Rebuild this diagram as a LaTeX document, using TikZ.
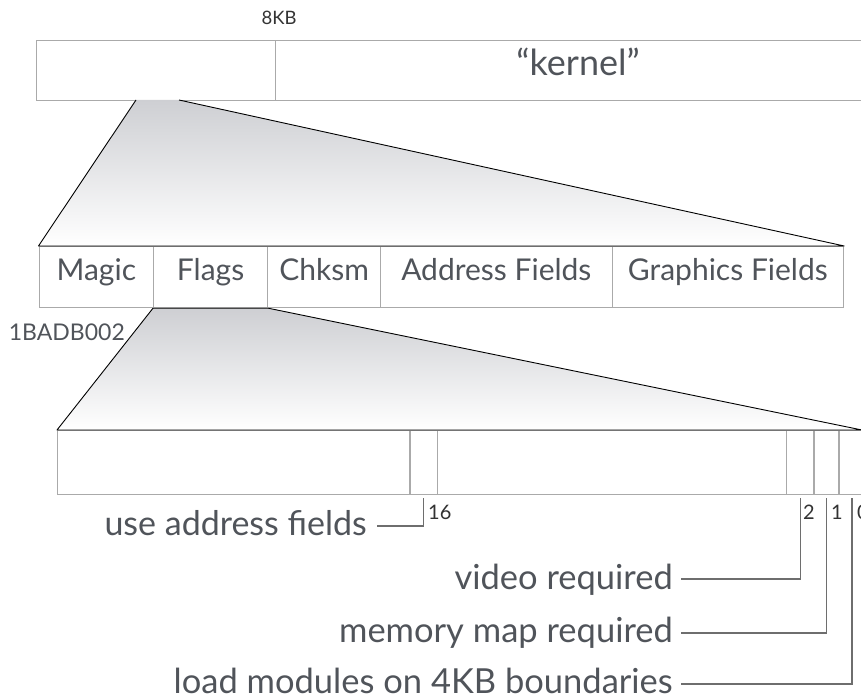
\documentclass[tikz,border=0pt]{standalone}
\usepackage{fontspec}
\setmainfont{Lato}
\usetikzlibrary{calc}
\definecolor{txt}{RGB}{80,84,90}
\definecolor{boxline}{RGB}{170,170,170}
\definecolor{leadline}{RGB}{110,110,110}
\definecolor{shadetop}{RGB}{206,207,211}
\begin{document}
\begin{tikzpicture}[x=1pt,y=-1pt,
  cell/.style={draw=boxline, line width=1.2pt, inner sep=0pt, anchor=north west,
    text=txt, font=\fontsize{30}{36}\selectfont, text height=0.75em, text depth=0.1em},
  trap/.style={draw=black, line width=0.9pt, line join=round},
  leader/.style={draw=leadline, line width=1.2pt},
  lbl/.style={font=\fontsize{34.5}{40}\selectfont, text=txt, inner sep=0pt, anchor=base east},
  bitnum/.style={font=\fontsize{20}{24}\selectfont, text=black!80, inner sep=0pt, anchor=base west},
  shadefill/.style={top color=shadetop, bottom color=white}]
\useasboundingbox (0,0) rectangle (861,700);
\clip (0,0) rectangle (861,700);

% top bar
\node[cell, minimum width=239pt, minimum height=60pt] (hdr) at (36,40) {};
\node[cell, minimum width=605pt, minimum height=60pt, font=\fontsize{36}{42}\selectfont,
  text height=0.9em, text depth=0pt] (kern) at (275,40) {“kernel”};
\node[font=\fontsize{18.5}{22}\selectfont, text=black!80, inner sep=0pt, anchor=base] (kb) at (279,25) {8KB};

% middle row
\node[cell, minimum width=114.5pt, minimum height=61pt] (magic) at (38.5,246) {Magic};
\node[cell, minimum width=114pt, minimum height=61pt] (flags) at (153,246) {Flags};
\node[cell, minimum width=113pt, minimum height=61pt] (chk) at (267,246) {Chksm};
\node[cell, minimum width=231.5pt, minimum height=61pt] (addr) at (380,246) {Address Fields};
\node[cell, minimum width=231.5pt, minimum height=61pt] (graph) at (611.5,246) {Graphics Fields};
\node[font=\fontsize{23}{27}\selectfont, text=txt, inner sep=0pt, anchor=base east] (magicval) at (125,340) {1BADB002};

% bottom row
\node[cell, minimum width=352.3pt, minimum height=64pt] (b31) at (57,430) {};
\node[cell, minimum width=27.4pt, minimum height=64pt] (b16) at (409.3,430) {};
\node[cell, minimum width=349.3pt, minimum height=64pt] (bmid) at (436.7,430) {};
\node[cell, minimum width=27.3pt, minimum height=64pt] (b2) at (786,430) {};
\node[cell, minimum width=25pt, minimum height=64pt] (b1) at (813.3,430) {};
\node[cell, minimum width=26pt, minimum height=64pt] (b0) at (838.3,430) {};

% zoom trapezoids
\coordinate (t1a) at (136,100);
\coordinate (t1b) at (179,100);
\coordinate (t2r) at (862,430);
\shade[shadefill] (t1a) -- (t1b) -- (graph.north east) -- (magic.north west) -- cycle;
\draw[trap] (t1a) -- (magic.north west) -- (graph.north east) -- (t1b);
\shade[shadefill] (flags.south west) -- (flags.south east) -- (t2r) -- (b31.north west) -- cycle;
\draw[trap] (flags.south west) -- (b31.north west) -- (t2r) -- (flags.south east) -- cycle;

% bit numbers
\node[bitnum] (n16) at (428,519) {16};
\node[bitnum] (n2) at (803,519) {2};
\node[bitnum] (n1) at (831,519) {1};
\node[bitnum] (n0) at (857,519) {0};

% labels
\node[lbl, font=\fontsize{34}{40}\selectfont] (uaf) at (367,535) {use address fields};
\node[lbl] (vid) at (673,589) {video required};
\node[lbl] (mem) at (673,642) {memory map required};
\node[lbl] (load) at (673,693) {load modules on 4KB boundaries};
\coordinate (uafc) at (377,526);
\coordinate (vidc) at (681,579);
\coordinate (memc) at (681,633);
\coordinate (loadc) at (681,684);

\draw[leader] ($(b16.south)+(0,3)$) |- (uafc);
\draw[leader] ($(b2.south)+(0,3)$) |- (vidc);
\draw[leader] ($(b1.south)+(0,3)$) |- (memc);
\draw[leader] ($(b0.south)+(0,3)$) |- (loadc);
\end{tikzpicture}
\end{document}
